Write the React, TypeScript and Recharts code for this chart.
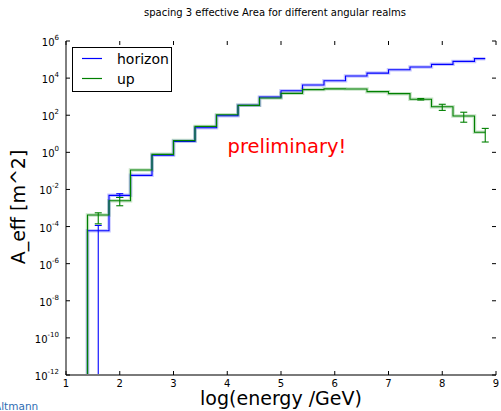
import React from 'react';
import { LineChart, Line, XAxis, YAxis, ErrorBar } from 'recharts';

// bin centres, log10(E/GeV)
const ENERGY = [1.2, 1.6, 2.0, 2.4, 2.8, 3.2, 3.6, 4.0, 4.4, 4.8, 5.2, 5.6, 6.0, 6.4, 6.8, 7.2, 7.6, 8.0, 8.4, 8.8];
// effective area [m^2]
const HORIZON = [1e-13, 5.9e-5, 4.8e-3, 0.0575, 0.69, 3.9, 21, 93, 340, 955, 2090, 4270, 7240, 12900, 18600, 28200, 39800, 55000, 79400, 112000];
const UP = [1e-13, 4.2e-4, 2.45e-3, 0.112, 0.78, 4.3, 25, 107, 340, 850, 1510, 2400, 2630, 2570, 1860, 1450, 725, 288, 91, 12];
// error bounds (absolute lower / upper values), null = no visible bar
const HORIZON_LO = [null, 1e-12, 3.7e-3, null, null, null, null, null, null, null, null, null, null, null, null, null, null, null, null, null];
const HORIZON_HI = [null, 1.15e-4, 5.9e-3, null, null, null, null, null, null, null, null, null, null, null, null, null, null, null, null, null];
const UP_LO = [null, 1.4e-4, 1.32e-3, null, null, null, null, null, null, null, null, null, null, null, null, null, 660, 182, 42, 3.6];
const UP_HI = [null, 5.5e-4, 3.7e-3, null, null, null, null, null, null, null, null, null, null, null, null, null, 795, 389, 145, 19.5];

const X_TICKS = [1, 2, 3, 4, 5, 6, 7, 8, 9];
const Y_TICKS = [1e-12, 1e-10, 1e-8, 1e-6, 1e-4, 1e-2, 1, 1e2, 1e4, 1e6];

const BLUE = '#0000ff';
const GREEN = '#008000';
const FONT = 'DejaVu Sans';

const PLOT = { left: 66, right: 496, top: 41, bottom: 375 };

const errPair = (v: number, lo: number | null, hi: number | null) =>
  lo == null || hi == null ? undefined : [v - lo, hi - v];

const data = ENERGY.map((e, i) => ({
  e,
  horizon: HORIZON[i],
  up: UP[i],
  hErr: errPair(HORIZON[i], HORIZON_LO[i], HORIZON_HI[i]),
  uErr: errPair(UP[i], UP_LO[i], UP_HI[i]),
}));

const YTick = (props: any) => {
  const { y, payload } = props;
  const exp = Math.round(Math.log10(payload.value));
  return (
    <g>
      <line x1={PLOT.left} x2={PLOT.left + 4} y1={y} y2={y} stroke="#000" />
      <line x1={PLOT.right - 4} x2={PLOT.right} y1={y} y2={y} stroke="#000" />
      <text x={59} y={y + 5} textAnchor="end" fontFamily={FONT} fill="#000">
        <tspan fontSize={10}>10</tspan>
        <tspan fontSize={7} dy={-6}>{String(exp)}</tspan>
      </text>
    </g>
  );
};

const XTick = (props: any) => {
  const { x, payload } = props;
  return (
    <g>
      <line x1={x} x2={x} y1={PLOT.bottom} y2={PLOT.bottom - 4} stroke="#000" />
      <line x1={x} x2={x} y1={PLOT.top} y2={PLOT.top + 4} stroke="#000" />
      <text x={x} y={386.5} textAnchor="middle" fontFamily={FONT} fontSize={10} fill="#000">
        {payload.value}
      </text>
    </g>
  );
};

export default function App() {
  return (
    <div style={{ position: 'absolute', left: 0, top: 0, width: 501, height: 411, background: '#fff' }}>
      <LineChart
        width={501}
        height={411}
        data={data}
        margin={{ top: 41, right: 5, bottom: 6, left: 6 }}
      >
        <XAxis
          dataKey="e"
          type="number"
          domain={[1, 9]}
          ticks={X_TICKS}
          allowDataOverflow
          height={30}
          tickLine={false}
          tick={<XTick />}
          axisLine={{ stroke: '#7a7a7a', strokeWidth: 2 }}
        />
        <XAxis
          xAxisId="top"
          orientation="top"
          type="number"
          domain={[1, 9]}
          height={0}
          tick={false}
          tickLine={false}
          axisLine={{ stroke: '#000' }}
        />
        <YAxis
          type="number"
          scale="log"
          domain={[1e-12, 1e6]}
          ticks={Y_TICKS}
          allowDataOverflow
          width={60}
          tickLine={false}
          tick={<YTick />}
          axisLine={{ stroke: '#000' }}
        />
        <YAxis
          yAxisId="right"
          orientation="right"
          type="number"
          domain={[0, 1]}
          width={0}
          tick={false}
          tickLine={false}
          axisLine={{ stroke: '#000' }}
        />
        <Line type="step" dataKey="horizon" stroke={BLUE} strokeOpacity={0.22} strokeWidth={3.5} dot={false} isAnimationActive={false} legendType="none" />
        <Line type="step" dataKey="up" stroke={GREEN} strokeOpacity={0.22} strokeWidth={3.5} dot={false} isAnimationActive={false} legendType="none" />
        <Line type="step" dataKey="horizon" stroke={BLUE} strokeWidth={1.1} dot={false} isAnimationActive={false}>
          <ErrorBar dataKey="hErr" width={3.5} stroke={BLUE} strokeWidth={1.1} direction="y" />
        </Line>
        <Line type="step" dataKey="up" stroke={GREEN} strokeWidth={1.1} dot={false} isAnimationActive={false}>
          <ErrorBar dataKey="uErr" width={3.5} stroke={GREEN} strokeWidth={1.1} direction="y" />
        </Line>
      </LineChart>
      <svg
        width={501}
        height={411}
        style={{ position: 'absolute', left: 0, top: 0, pointerEvents: 'none' }}
      >
        <text x={275} y={16} textAnchor="middle" fontFamily={FONT} fontSize={10} fill="#000">
          spacing 3 effective Area for different angular realms
        </text>
        <text x={227.5} y={152.5} fontFamily={FONT} fontSize={19.5} fill="#ff0000">
          preliminary!
        </text>
        <text x={281} y={405} textAnchor="middle" fontFamily={FONT} fontSize={19} fill="#000">
          log(energy /GeV)
        </text>
        <text
          x={25}
          y={207}
          textAnchor="middle"
          fontFamily={FONT}
          fontSize={19}
          fill="#000"
          transform="rotate(-90 25 207)"
        >
          A_eff [m^2]
        </text>
        <text x={-6} y={410} fontFamily={FONT} fontSize={10.5} fill="#2f6db3">
          Altmann
        </text>
        <g>
          <rect x={72.5} y={47.5} width={99} height={44} fill="#fff" stroke="#000" strokeWidth={1} />
          <line x1={82} x2={102} y1={58.5} y2={58.5} stroke={BLUE} strokeWidth={1.2} />
          <line x1={82} x2={102} y1={78.5} y2={78.5} stroke={GREEN} strokeWidth={1.2} />
          <text x={117} y={64} fontFamily={FONT} fontSize={14} fill="#000">horizon</text>
          <text x={117} y={84} fontFamily={FONT} fontSize={14} fill="#000">up</text>
        </g>
      </svg>
    </div>
  );
}
